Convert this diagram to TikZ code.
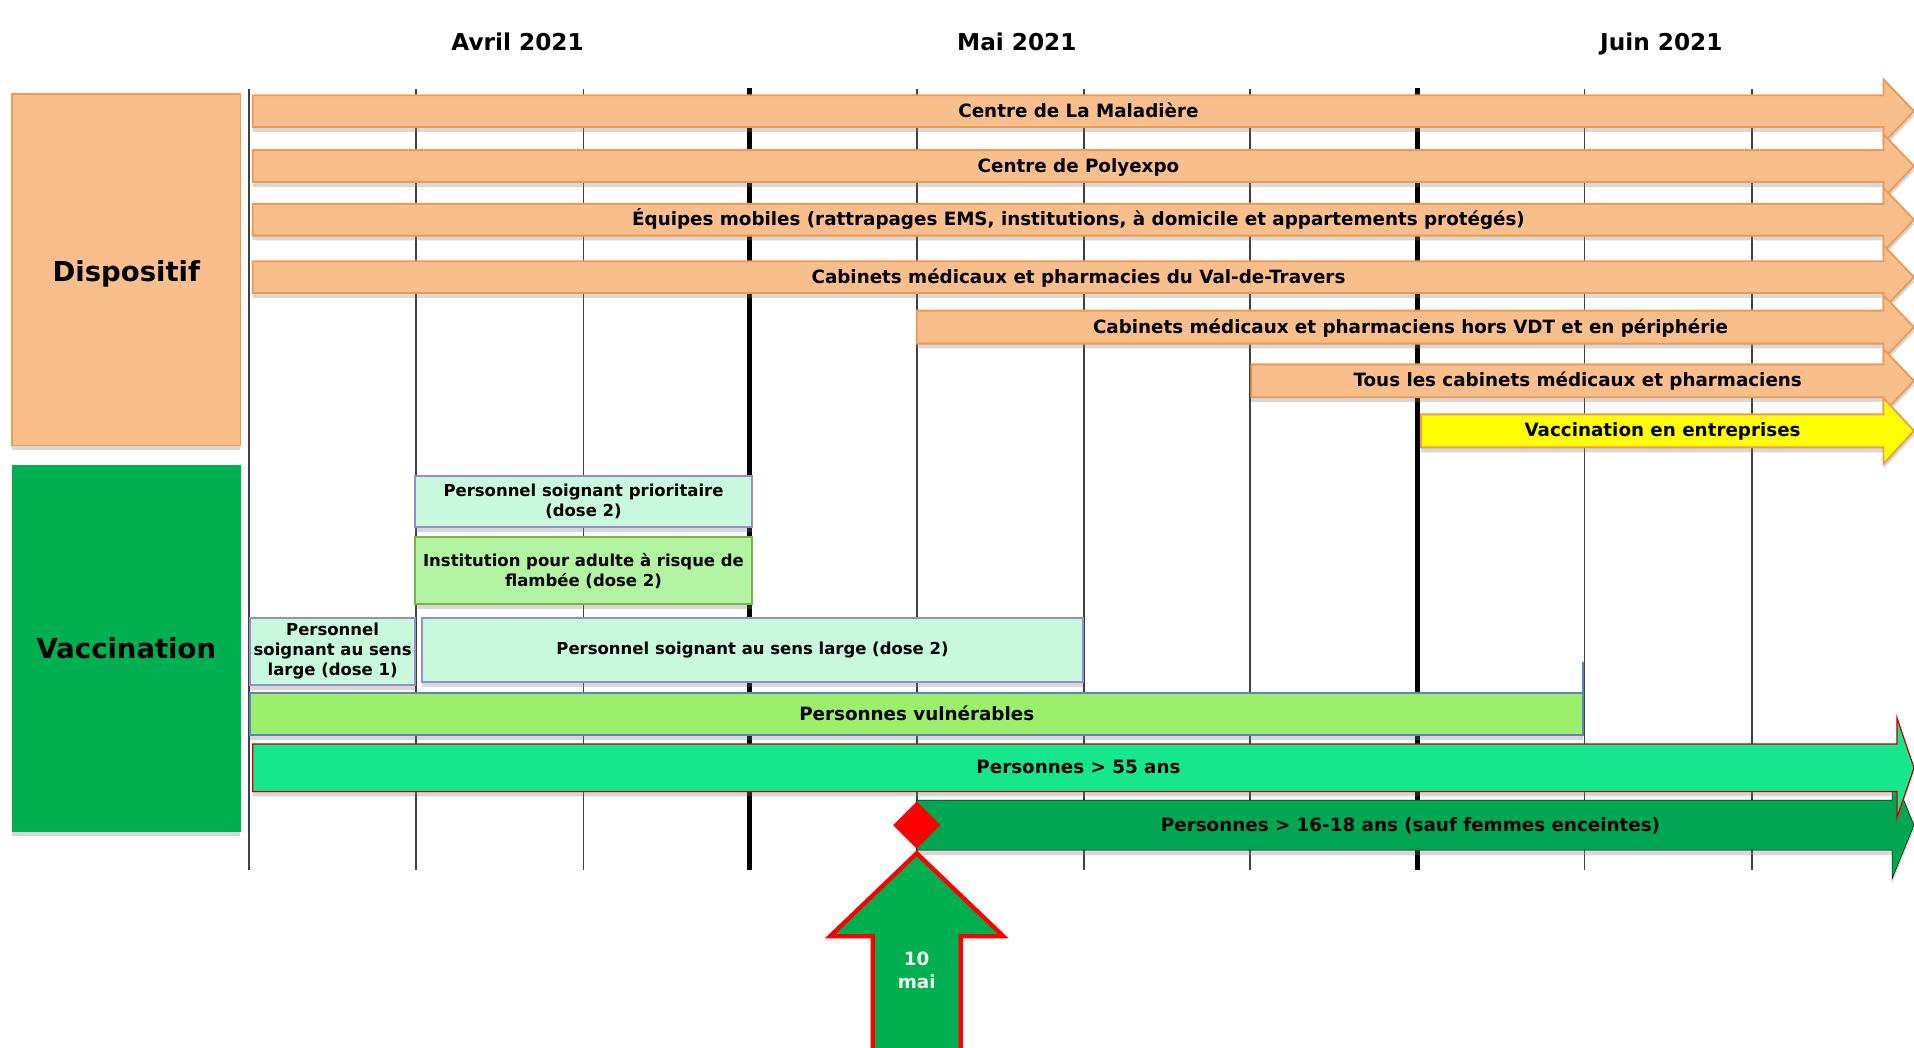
\documentclass[tikz,border=0pt]{standalone}
\usepackage{fontspec}
\setmainfont{DejaVu Sans}
\usepackage{tikz}
\usetikzlibrary{calc,shadows}
\usepackage{xcolor}
\definecolor{peach}{HTML}{F8BE8C}
\definecolor{peachline}{HTML}{EE9A52}
\definecolor{sunny}{HTML}{FFFF00}
\definecolor{mint}{HTML}{C9F9DC}
\definecolor{mintline}{HTML}{9A8CCB}
\definecolor{pale}{HTML}{B3F4A2}
\definecolor{paleline}{HTML}{7FB050}
\definecolor{vuln}{HTML}{9CEF6A}
\definecolor{steel}{HTML}{5A85B8}
\definecolor{ageold}{HTML}{16E68C}
\definecolor{ageyoung}{HTML}{00A651}
\definecolor{vaccgreen}{HTML}{00AF50}
\tikzstyle{header}=[font=\fontsize{19}{22}\selectfont\bfseries, text height=14pt, text depth=0pt]
\tikzstyle{bartext}=[font=\fontsize{15}{18}\selectfont\bfseries, text height=11pt, text depth=1pt]
\tikzstyle{boxtext}=[font=\fontsize{13.5}{16.5}\selectfont\bfseries, align=center, inner sep=0pt]
\tikzstyle{bigtext}=[font=\fontsize{22.5}{26}\selectfont\bfseries, text height=16.5pt, text depth=0pt]
\tikzstyle{shadowed}=[drop shadow={opacity=.3,shadow xshift=0pt,shadow yshift=-4pt}]
\tikzstyle{peachbar}=[fill=peach, draw=peachline, line width=1.5pt, shadowed]
\tikzstyle{sunnybar}=[fill=sunny, draw=peachline, line width=1.5pt, shadowed]
\tikzstyle{mintbox}=[boxtext, fill=mint, draw=mintline, line width=1.5pt, shadowed]
\tikzstyle{palebox}=[boxtext, fill=pale, draw=paleline, line width=1.5pt, shadowed]
\newcommand{\timeArrow}[8]{
	\filldraw[#1] (#3,#4-#5) -- (#6,#4-#5) -- (#6,#4-#7) -- (1568,#4) -- (#6,#4+#7) -- (#6,#4+#5) -- (#3,#4+#5) -- cycle;
	\node[bartext] (#2) at ($(#3,#4)!.5!(1560,#4)$) {#8};
}

\begin{document}
\begin{tikzpicture}[x=1pt,y=-1pt]
	\useasboundingbox[fill=white] (0,0) rectangle (1568,858);
	% grid of weeks
	\foreach \x in {204,341,478,751,888,1024,1298,1435}
		\draw[line width=1.5pt, black!75] (\x,73) -- (\x,713);
	\foreach \x in {614,1161}
		\draw[line width=4pt] (\x,72) -- (\x,713);
	\node[header] (avril) at (424,34) {Avril 2021};
	\node[header] (mai) at (833,34) {Mai 2021};
	\node[header] (juin) at (1361,34) {Juin 2021};
	% left labels
	\filldraw[fill=peach, draw=peachline, line width=1.5pt, shadowed] (10,77) rectangle (197,365);
	\filldraw[fill=vaccgreen, draw=vaccgreen, shadowed] (10,381) rectangle (197,681);
	\node[bigtext] (disp) at (103.5,222) {Dispositif};
	\node[bigtext] (vacc) at (103.5,531) {Vaccination};
	% dispositif
	\timeArrow{peachbar}{malad}{207}{91}{13}{1543}{26}{Centre de La Maladière}
	\timeArrow{peachbar}{polyex}{207}{136}{13}{1543}{26}{Centre de Polyexpo}
	\timeArrow{peachbar}{mobiles}{207}{180}{13}{1543}{26}{Équipes mobiles (rattrapages EMS, institutions, à domicile et appartements protégés)}
	\timeArrow{peachbar}{vdt}{207}{227}{13}{1543}{26}{Cabinets médicaux et pharmacies du Val-de-Travers}
	\timeArrow{peachbar}{horsvdt}{751}{268}{13.5}{1543}{26}{Cabinets médicaux et pharmaciens hors VDT et en périphérie}
	\timeArrow{peachbar}{tous}{1025}{312}{13.5}{1543}{26}{Tous les cabinets médicaux et pharmaciens}
	\timeArrow{sunnybar}{entrep}{1164}{353}{13.5}{1543}{27}{Vaccination en entreprises}
	% vaccination
	\node[mintbox, minimum width=276pt, minimum height=42pt] (prio) at (478,411) {Personnel soignant prioritaire\\(dose 2)};
	\node[palebox, minimum width=276pt, minimum height=55pt] (instit) at (478,467.5) {Institution pour adulte à risque de\\flambée (dose 2)};
	\node[mintbox, minimum width=135pt, minimum height=55pt] (largeA) at (272.5,533.5) {Personnel\\soignant au sens\\large (dose 1)};
	\node[mintbox, minimum width=541pt, minimum height=53pt] (largeB) at (616.5,532.5) {Personnel soignant au sens large (dose 2)};
	\node[bartext, fill=vuln, draw=steel, line width=1.5pt, shadowed, minimum width=1092pt, minimum height=34pt, inner sep=0pt] (vulner) at (751,585) {Personnes vulnérables};
	\draw[steel, line width=2pt] (1297,542) -- (1297,603);
	\timeArrow{fill=ageyoung, shadowed}{jeunes}{751}{676}{20.5}{1550}{44}{Personnes > 16-18 ans (sauf femmes enceintes)}
	\timeArrow{fill=ageold, draw=red!80!black, line width=1pt, shadowed}{aines}{207}{629}{19.5}{1554}{41}{Personnes > 55 ans}
	% 10 mai
	\filldraw[red] (751,657) -- (770,676) -- (751,695) -- (732,676) -- cycle;
	\filldraw[fill=vaccgreen, draw=red, line width=3.5pt] (751,699) -- (822,767) -- (787,767) -- (787,870) -- (715,870) -- (715,767) -- (680,767) -- cycle;
	\node[font=\fontsize{15}{19}\selectfont\bfseries, text=green!5, align=center] (date) at (751,795) {10\\mai};
\end{tikzpicture}
\end{document}
